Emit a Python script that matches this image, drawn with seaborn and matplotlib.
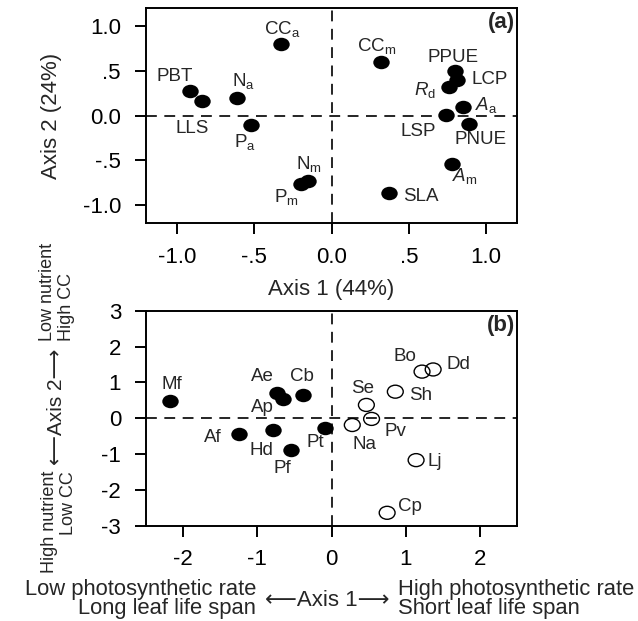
import numpy as np
import pandas as pd
import seaborn as sns
import matplotlib.pyplot as plt
from matplotlib.path import Path
from matplotlib.markers import MarkerStyle
from matplotlib.transforms import Affine2D

sns.set_style('ticks')
plt.rcParams['font.family'] = ['Liberation Sans', 'DejaVu Sans']
plt.rcParams['mathtext.fontset'] = 'custom'
plt.rcParams['mathtext.rm'] = 'Liberation Sans'
plt.rcParams['mathtext.it'] = 'Liberation Sans:italic'
plt.rcParams['mathtext.bf'] = 'Liberation Sans:bold'

# (a) trait loadings
trait_labels = ['PBT', 'LLS', r'N$_{\rm a}$', r'P$_{\rm a}$', r'CC$_{\rm a}$',
                r'N$_{\rm m}$', r'P$_{\rm m}$', r'CC$_{\rm m}$', 'PPUE', 'LCP',
                r'$R_{\rm d}$', r'$A_{\rm a}$', 'LSP', 'PNUE', r'$A_{\rm m}$', 'SLA']
trait_ax1 = [-0.915, -0.84, -0.61, -0.52, -0.325, -0.15, -0.20, 0.32, 0.80, 0.81,
             0.76, 0.85, 0.74, 0.89, 0.78, 0.37]
trait_ax2 = [0.27, 0.16, 0.20, -0.11, 0.80, -0.73, -0.76, 0.60, 0.50, 0.40,
             0.32, 0.10, 0.01, -0.09, -0.54, -0.865]
a_ticks = [-1.0, -0.5, 0.0, 0.5, 1.0]
a_ticklabels = ['-1.0', '-.5', '0.0', '.5', '1.0']

# (b) species scores
species = ['Mf', 'Ae', 'Ap', 'Cb', 'Af', 'Hd', 'Pf', 'Pt',
           'Na', 'Pv', 'Se', 'Sh', 'Bo', 'Dd', 'Lj', 'Cp']
sp_ax1 = [-2.17, -0.74, -0.66, -0.39, -1.25, -0.79, -0.54, -0.09,
          0.28, 0.54, 0.47, 0.86, 1.22, 1.37, 1.14, 0.75]
sp_ax2 = [0.49, 0.71, 0.54, 0.66, -0.44, -0.33, -0.89, -0.27,
          -0.19, -0.02, 0.37, 0.74, 1.30, 1.36, -1.17, -2.64]
sp_group = ['filled'] * 8 + ['open'] * 8
b_xticks = [-2, -1, 0, 1, 2]
b_yticks = [-3, -2, -1, 0, 1, 2, 3]

# label offsets in pixels (right, down)
trait_off = [(-15, -15), (-9, 27), (6, -17), (-6, 17), (1, -15), (1, -17), (-14, 13),
             (-4, -16), (-2, -13), (33, 0), (-24, 3), (23, -2), (-28, 17), (11, 16),
             (13, 12), (32, 4)]
sp_off = [(1, -16), (-14, -16), (-20, 9), (-1, -18), (-26, 4), (-11, 20), (-9, 18),
          (-10, 15), (12, 19), (24, 13), (-4, -16), (25, 4), (-17, -15), (25, -5),
          (19, 1), (23, -6)]

traits = pd.DataFrame({'label': trait_labels, 'ax1': trait_ax1, 'ax2': trait_ax2})
spp = pd.DataFrame({'label': species, 'ax1': sp_ax1, 'ax2': sp_ax2, 'group': sp_group})

W, H = 638, 621
fig = plt.figure(figsize=(W / 100, H / 100), dpi=100)


def px(x, y):
    return x / W, 1 - y / H


ax_a = fig.add_axes([146 / W, 1 - 223 / H, 371 / W, 215 / H])
ax_b = fig.add_axes([146 / W, 1 - 525.7 / H, 371 / W, 215 / H])

oval = MarkerStyle(Path.unit_circle().transformed(Affine2D().scale(1.22, 1.0)))
P2PT = 1 / 1.389

sns.scatterplot(data=traits, x='ax1', y='ax2', ax=ax_a, color='black',
                marker=oval, s=140, edgecolor='black', linewidth=0, zorder=3)
for lab, x, y, (dx, dy) in zip(trait_labels, trait_ax1, trait_ax2, trait_off):
    ax_a.annotate(lab, (x, y), xytext=(dx * P2PT, -dy * P2PT), textcoords='offset points',
                  ha='center', va='center', fontsize=13.5)

filled = spp[spp['group'] == 'filled']
opened = spp[spp['group'] == 'open']
sns.scatterplot(data=filled, x='ax1', y='ax2', ax=ax_b, color='black',
                marker=oval, s=140, edgecolor='black', linewidth=0, zorder=3)
sns.scatterplot(data=opened, x='ax1', y='ax2', ax=ax_b, facecolor='none',
                marker=oval, s=130, edgecolor='black', linewidth=1.0, zorder=3)
for lab, x, y, (dx, dy) in zip(species, sp_ax1, sp_ax2, sp_off):
    ax_b.annotate(lab, (x, y), xytext=(dx * P2PT, -dy * P2PT), textcoords='offset points',
                  ha='center', va='center', fontsize=13.5)

for ax in (ax_a, ax_b):
    ax.axhline(0, color='black', lw=1.2, ls=(0, (6.5, 4.5)), zorder=1)
    ax.axvline(0, color='black', lw=1.2, ls=(0, (6.5, 4.5)), zorder=1)
    for sp in ax.spines.values():
        sp.set_linewidth(1.4)
        sp.set_color('black')
    ax.tick_params(direction='out', length=8, width=1.4, labelsize=16,
                   color='black', labelcolor='black')
    ax.tick_params(axis='x', pad=9)
    ax.tick_params(axis='y', pad=10)
    ax.set_facecolor('white')

ax_a.set_xlim(-1.2, 1.2)
ax_a.set_ylim(-1.2, 1.2)
ax_a.set_xticks(a_ticks)
ax_a.set_xticklabels(a_ticklabels)
ax_a.set_yticks(a_ticks)
ax_a.set_yticklabels(a_ticklabels)
ax_a.set_xlabel('Axis 1 (44%)', fontsize=16, labelpad=8)
ax_a.set_ylabel('Axis 2 (24%)', fontsize=16, labelpad=15)
ax_a.text(0.995, 0.98, '(a)', transform=ax_a.transAxes, ha='right', va='top',
          fontsize=16, fontweight='bold')

ax_b.set_xlim(-2.5, 2.5)
ax_b.set_ylim(-3, 3)
ax_b.set_xticks(b_xticks)
ax_b.set_xticklabels([str(t) for t in b_xticks])
ax_b.set_yticks(b_yticks)
ax_b.set_yticklabels([str(t) for t in b_yticks])
ax_b.set_xlabel('')
ax_b.set_ylabel('')
ax_b.text(0.995, 0.98, '(b)', transform=ax_b.transAxes, ha='right', va='top',
          fontsize=16, fontweight='bold')

# composite axis titles for (b)
fig.text(*px(256, 599), 'Low photosynthetic rate\nLong leaf life span', ha='right',
         va='center', multialignment='right', fontsize=15.8, linespacing=0.92)
fig.text(*px(327, 600), '\u27f5Axis 1\u27f6', ha='center', va='center', fontsize=16)
fig.text(*px(398, 599), 'High photosynthetic rate\nShort leaf life span', ha='left',
         va='center', multialignment='left', fontsize=15.8, linespacing=0.92)

fig.text(*px(57, 341), 'Low nutrient\nHigh CC', rotation=90, ha='center', va='bottom',
         multialignment='left', fontsize=13, linespacing=1.15)
fig.text(*px(56, 407), '\u27f5Axis 2\u27f6', rotation=90, ha='center', va='center',
         fontsize=15)
fig.text(*px(59, 471), 'High nutrient\nLow CC', rotation=90, ha='center', va='top',
         multialignment='right', fontsize=13, linespacing=1.15)

fig.savefig('out.png', dpi=100)
